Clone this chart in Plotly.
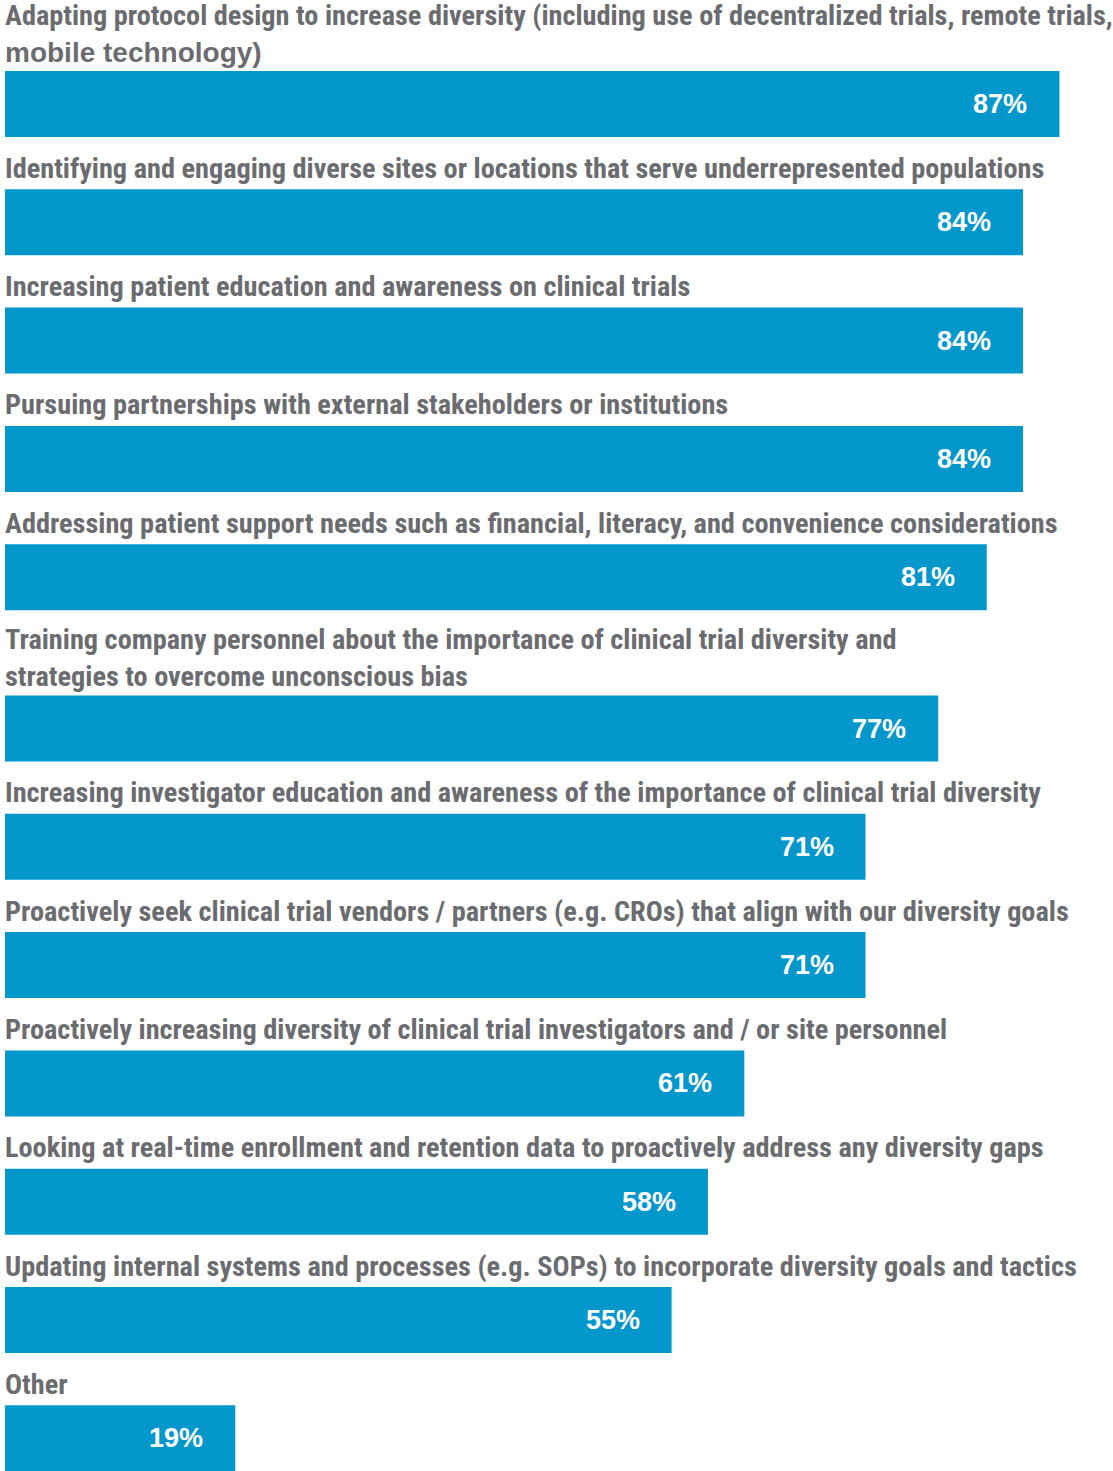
import plotly.graph_objects as go

categories = [
    "Adapting protocol design to increase diversity (including use of decentralized trials, remote trials,<br><span style=\"font-family:'Liberation Sans';font-size:28px\">mobile technology)</span>",
    "Identifying and engaging diverse sites or locations that serve underrepresented populations",
    "Increasing patient education and awareness on clinical trials",
    "Pursuing partnerships with external stakeholders or institutions",
    "Addressing patient support needs such as financial, literacy, and convenience considerations",
    "Training company personnel about the importance of clinical trial diversity and<br>strategies to overcome unconscious bias",
    "Increasing investigator education and awareness of the importance of clinical trial diversity",
    "Proactively seek clinical trial vendors / partners (e.g. CROs) that align with our diversity goals",
    "Proactively increasing diversity of clinical trial investigators and / or site personnel",
    "Looking at real-time enrollment and retention data to proactively address any diversity gaps",
    "Updating internal systems and processes (e.g. SOPs) to incorporate diversity goals and tactics",
    "Other",
]
values = [87, 84, 84, 84, 81, 77, 71, 71, 61, 58, 55, 19]
value_labels = ["87%", "84%", "84%", "84%", "81%", "77%", "71%", "71%", "61%", "58%", "55%", "19%"]

W, H = 1113, 1471
BAR_COLOR = "#0497cc"
TEXT_COLOR = "#6b6c70"

# layout in pixel units (y axis spans pixel rows)
TOP = 71
BAR_H = 66
GAP = 52.3
EXTRA_LINE = 33
PX_PER_PCT = 12.12
LEFT = 5

n_lines = [c.count("<br>") + 1 for c in categories]
bar_tops = []
cur = TOP
for i, nl in enumerate(n_lines):
    if i > 0:
        cur += BAR_H + GAP + (nl - 1) * EXTRA_LINE
    bar_tops.append(cur)
centers = [t + BAR_H / 2 for t in bar_tops]

fig = go.Figure(go.Bar(
    x=values, y=centers, orientation="h", width=BAR_H,
    marker=dict(color=BAR_COLOR, line=dict(width=0)),
    hoverinfo="skip",
))

annotations = []
for cat, nl, top in zip(categories, n_lines, bar_tops):
    annotations.append(dict(
        x=0, y=top - 21 - (nl - 1) * 16.5, xref="x", yref="y", xshift=-2,
        text="<b>" + cat + "</b>", showarrow=False, xanchor="left", yanchor="middle",
        align="left", font=dict(family="Roboto Condensed", size=28.3, color=TEXT_COLOR),
    ))
for v, lab, c in zip(values, value_labels, centers):
    annotations.append(dict(
        x=v, y=c, xref="x", yref="y", text="<b>" + lab + "</b>", showarrow=False,
        xanchor="right", yanchor="middle", xshift=-30,
        font=dict(family="Liberation Sans", size=27, color="white"),
    ))

fig.update_layout(
    width=W, height=H,
    margin=dict(l=LEFT, r=0, t=0, b=0),
    paper_bgcolor="white", plot_bgcolor="white",
    showlegend=False,
    xaxis=dict(range=[0, (W - LEFT) / PX_PER_PCT], visible=False, fixedrange=True),
    yaxis=dict(range=[H, 0], visible=False, fixedrange=True),
    annotations=annotations,
)

fig.write_html("out.html", config={"displayModeBar": False},
               post_script="document.body.style.margin='0';")
